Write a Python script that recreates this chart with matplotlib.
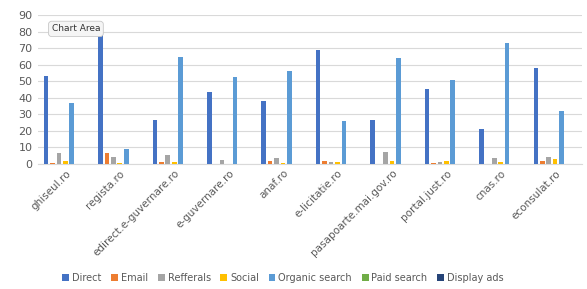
# Traffic sources per site - grouped bar chart
import numpy as np
import matplotlib.pyplot as plt

# Data
sites = ['ghiseul.ro', 'regista.ro', 'edirect.e-guvernare.ro', 'e-guvernare.ro', 'anaf.ro',
         'e-licitatie.ro', 'pasapoarte.mai.gov.ro', 'portal.just.ro', 'cnas.ro', 'econsulat.ro']
direct = [53, 78.5, 26.5, 43.5, 37.8, 68.7, 26.5, 45.2, 21, 58]
email = [0.5, 6.8, 1.4, 0.3, 1.8, 2, 0.2, 0.5, 0.3, 2]
refferals = [6.8, 4.4, 5.4, 2.4, 3.4, 1.5, 7.3, 1, 3.4, 4.5]
social = [1.8, 0.5, 1.2, 0, 0.6, 1.5, 1.8, 1.6, 1.4, 3]
organic = [36.6, 9, 64.4, 52.7, 55.9, 25.7, 63.8, 50.5, 73.4, 31.8]
paid = [0, 0, 0, 0, 0, 0, 0, 0, 0, 0]
display = [0, 0, 0, 0, 0, 0, 0, 0, 0, 0]

series = ['Direct', 'Email', 'Refferals', 'Social', 'Organic search', 'Paid search', 'Display ads']
values = [direct, email, refferals, social, organic, paid, display]
colors = ['#4472C4', '#ED7D31', '#A5A5A5', '#FFC000', '#5B9BD5', '#70AD47', '#264478']

fig = plt.figure(figsize=(5.87, 2.89), dpi=100)
ax = fig.add_axes([0.065, 0.4325, 0.927, 0.5155])

x = np.arange(len(sites))
step = 0.118
width = 0.085
for i, (name, vals, c) in enumerate(zip(series, values, colors)):
    ax.bar(x + (i - 3) * step, vals, width, color=c, label=name, zorder=3)

ax.set_xlim(-0.5, len(sites) - 0.5)
ax.set_ylim(0, 90)
ax.set_yticks(range(0, 91, 10))
ax.yaxis.grid(True, color='#D9D9D9', linewidth=0.8, zorder=0)
for s in ['top', 'right', 'left']:
    ax.spines[s].set_visible(False)
ax.spines['bottom'].set_color('#D9D9D9')
ax.tick_params(axis='y', length=0, labelsize=8, colors='#595959', pad=4)
ax.tick_params(axis='x', length=0, labelsize=7.5, colors='#595959', pad=3)
ax.set_xticks(x)
ax.set_xticklabels(sites, rotation=45, ha='right', rotation_mode='anchor')

ax.legend(loc='center', bbox_to_anchor=(0.45, -0.765), ncol=7, frameon=False,
          fontsize=7, handlelength=0.7, handleheight=0.7, handletextpad=0.3,
          columnspacing=1.0, labelcolor='#595959')

fig.text(0.088, 0.9, 'Chart Area', fontsize=6.5, color='#333333', va='center',
         bbox=dict(boxstyle='round,pad=0.35', fc='#F5F5F5', ec='#C8C8C8', lw=0.6))

plt.savefig('out.png', dpi=100)
